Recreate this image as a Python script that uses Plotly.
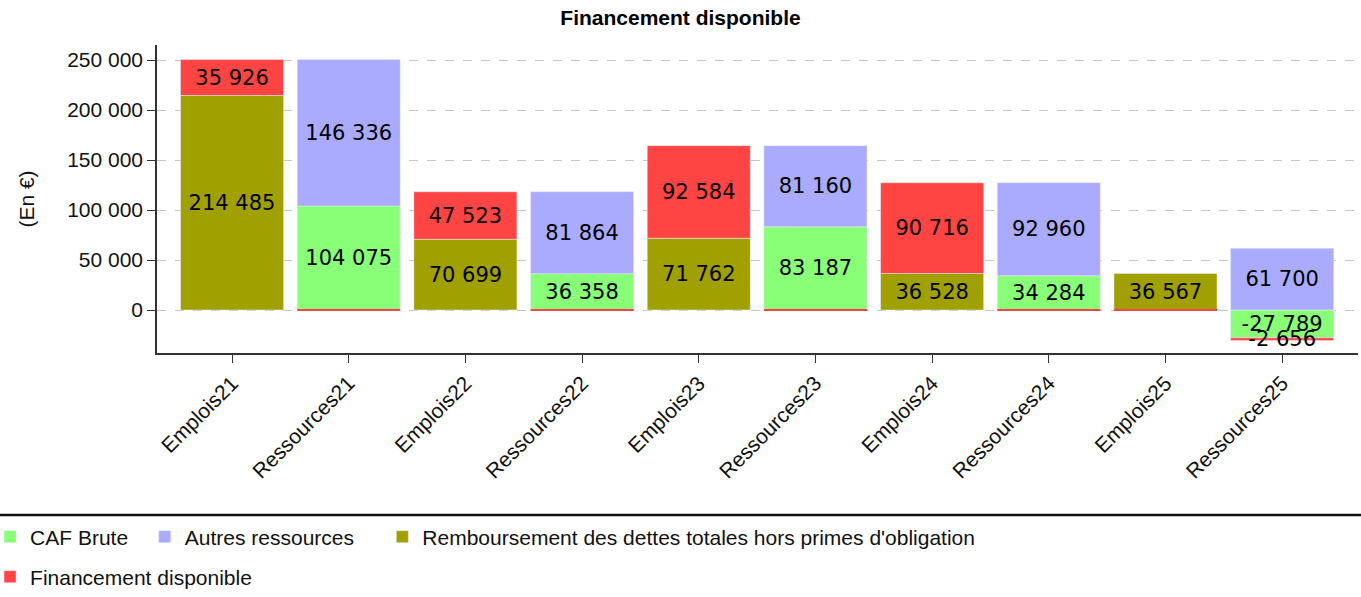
import plotly.graph_objects as go

categories = ["Emplois21", "Ressources21", "Emplois22", "Ressources22", "Emplois23",
              "Ressources23", "Emplois24", "Ressources24", "Emplois25", "Ressources25"]
caf_brute = [None, 104075, None, 36358, None, 83187, None, 34284, None, -27789]
autres_ressources = [None, 146336, None, 81864, None, 81160, None, 92960, None, 61700]
remboursement = [214485, None, 70699, None, 71762, None, 36528, None, 36567, None]
financement = [35926, 0, 47523, 0, 92584, 0, 90716, 0, 0, -2656]

C_GREEN = "#88ff77"
C_BLUE = "#aaaaff"
C_OLIVE = "#a0a000"
C_RED = "#ff4444"
NB = "\u00a0"


def fmt(v):
    if v is None or v == 0:
        return ""
    return f"{v:,}".replace(",", " ")


txtfont = dict(family="DejaVu Sans", size=21, color="black")
common = dict(textposition="inside", insidetextanchor="middle", textangle=0,
              constraintext="none", textfont=txtfont, insidetextfont=txtfont)

fig = go.Figure()
fig.add_trace(go.Bar(x=categories, y=caf_brute, name="CAF Brute" + NB * 2, marker_color=C_GREEN,
                     text=[fmt(v) for v in caf_brute], legend="legend", **common))
fig.add_trace(go.Bar(x=categories, y=autres_ressources, name="Autres ressources" + NB * 4, marker_color=C_BLUE,
                     text=[fmt(v) for v in autres_ressources], legend="legend", **common))
fig.add_trace(go.Bar(x=categories, y=remboursement, name="Remboursement des dettes totales hors primes d'obligation",
                     marker_color=C_OLIVE, text=[fmt(v) for v in remboursement], legend="legend", **common))
fin_main = [v if v != 0 else None for v in financement]
fig.add_trace(go.Bar(x=categories, y=fin_main, name="Financement disponible", marker_color=C_RED,
                     text=[fmt(v) for v in fin_main], legend="legend2", **common))
# zero-valued "Financement disponible" drawn as thin lines at the baseline
fin_zero = [0 if v == 0 else None for v in financement]
fig.add_trace(go.Bar(x=categories, y=fin_zero, name="Financement disponible", marker_color=C_RED,
                     marker_line=dict(color=C_RED, width=2), showlegend=False, yaxis="y2"))

yrange = [-43000, 265000]
FONT = "Liberation Sans, Arial"
fig.update_layout(
    width=1361, height=597,
    barmode="relative", bargap=0.117,
    separators=", ",
    plot_bgcolor="white", paper_bgcolor="white",
    margin=dict(l=157, r=3, t=45, b=244, autoexpand=False),
    font=dict(family=FONT, size=21, color="#111"),
    title=dict(text="<b>Financement disponible</b>", x=0.5, xref="container", xanchor="center",
               y=0.9698, yref="container", yanchor="middle",
               font=dict(family=FONT, size=21, color="black")),
    xaxis=dict(range=[-0.643, 9.65], tickangle=-45, showline=True, linecolor="#333", linewidth=1.5,
               ticks="outside", ticklen=8, tickcolor="#333", tickfont=dict(family=FONT, size=21, color="#111"),
               showgrid=False, automargin=False),
    yaxis=dict(range=yrange, tickvals=[0, 50000, 100000, 150000, 200000, 250000], tickformat=",d",
               showline=True, linecolor="#333", linewidth=1.5, ticks="outside", ticklen=8, tickcolor="#333",
               showgrid=True, gridcolor="#c8c8c8", griddash="dash", zeroline=False, automargin=False,
               title=dict(text="(En €)", standoff=27, font=dict(family=FONT, size=21, color="#111")),
               tickfont=dict(family=FONT, size=21, color="#111")),
    yaxis2=dict(range=yrange, overlaying="y", visible=False),
    legend=dict(orientation="h", x=-0.139, xanchor="left", y=-0.5974, yanchor="middle",
                font=dict(family=FONT, size=21, color="#111"), bgcolor="rgba(0,0,0,0)"),
    legend2=dict(orientation="h", x=-0.139, xanchor="left", y=-0.7273, yanchor="middle",
                 font=dict(family=FONT, size=21, color="#111"), bgcolor="rgba(0,0,0,0)"),
    shapes=[dict(type="line", xref="paper", yref="paper", x0=-0.135, x1=1.01, y0=-0.526, y1=-0.526,
                 line=dict(color="#111", width=2.5))],
)

fig.write_html("out.html", config={"displayModeBar": False},
               post_script="document.body.style.margin='0';document.body.style.overflow='hidden';")
